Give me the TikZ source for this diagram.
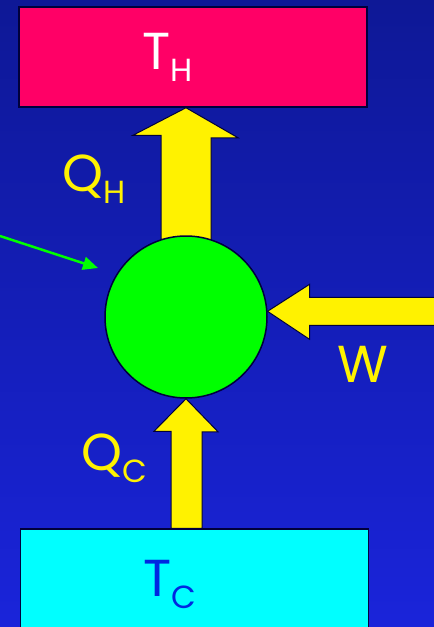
\documentclass[tikz,border=0pt]{standalone}
\usepackage{fontspec}
\setmainfont{Poppins}
\usetikzlibrary{arrows.meta,backgrounds}
\definecolor{bgtop}{RGB}{14,24,150}
\definecolor{bgbot}{RGB}{26,36,218}
\definecolor{hotred}{RGB}{255,0,102}
\definecolor{coldcyan}{RGB}{0,255,255}
\definecolor{edge}{RGB}{0,0,60}
\definecolor{engreen}{RGB}{0,255,0}
\definecolor{tcblue}{RGB}{0,40,225}
\newcommand{\symsub}[2]{#1\raisebox{-12pt}{\fontsize{32}{32}\selectfont #2}}
\tikzset{
	reservoir/.style = {draw=edge, line width=1.5pt, minimum width=348pt, inner sep=0pt},
	heatflow/.style = {fill=yellow, draw=edge, line width=1pt, line join=miter},
	lbl/.style = {inner sep=0pt, font=\fontsize{52}{52}\selectfont},
}
\begin{document}
\begin{tikzpicture}[x=1pt, y=-1pt]
\useasboundingbox (0,0) rectangle (434,627);
\clip (0,0) rectangle (434,627);
\node[reservoir, fill=hotred, minimum height=100pt] (hot) at (193,57) {};
\node[reservoir, fill=coldcyan, minimum height=110pt] (cold) at (194.5,584) {};
\node[circle, draw=edge, line width=1.5pt, fill=engreen, minimum size=162pt] (engine) at (186,317) {};
\coordinate (pointer) at (0,236);
\coordinate (engpt) at (98,268);
\node[lbl, white] (THlbl) at (168,57) {\symsub{T}{H}};
\node[lbl, yellow] (QHlbl) at (94,179) {\symsub{Q}{H}};
\node[lbl, yellow] (Wlbl) at (363,364) {W};
\node[lbl, yellow] (QClbl) at (114,458) {\symsub{Q}{C}};
\node[lbl, tcblue] (TClbl) at (170,584) {\symsub{T}{C}};
\begin{pgfonlayer}{background}
	\fill[top color=bgtop, bottom color=bgbot] (0,0) rectangle (434,627);
	% heat out to the hot side
	\draw[heatflow] (engine.north) ++(-25,4) -- ++(0,-104) -- ++(-28,0) -- (hot.south -| engine.north) -- ++(52,30) -- ++(-27,0) -- ++(0,104) -- cycle;
	% work in
	\draw[heatflow] (engine.4) -- ++(42,-27) -- ++(0,13) -- ++(140,0) -- ++(0,28) -- ++(-140,0) -- ++(0,14) -- cycle;
	% heat in from the cold side
	\draw[heatflow] (engine.south) -- ++(32,33) -- ++(-16,0) -- (cold.north -| 202,0) -- ++(-31,0) -- ++(0,-97) -- ++(-17,0) -- cycle;
\end{pgfonlayer}
\draw[engreen, line width=2.5pt, -{Triangle[length=15pt,width=13pt]}] (pointer) -- (engpt);
\end{tikzpicture}
\end{document}
